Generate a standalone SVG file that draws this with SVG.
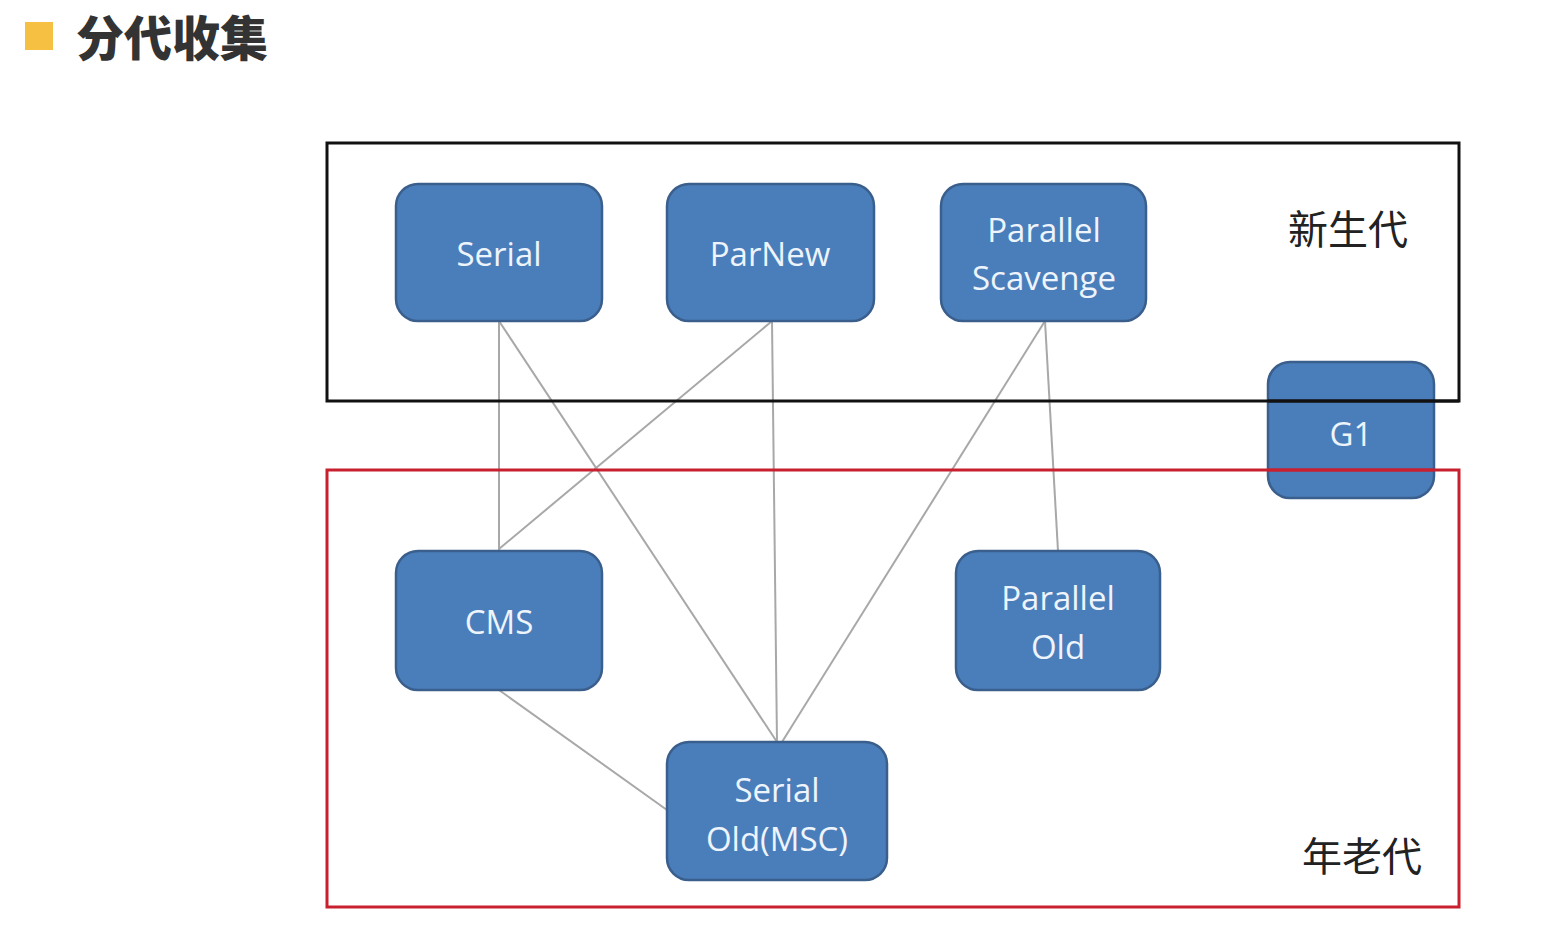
<svg xmlns="http://www.w3.org/2000/svg" width="1568" height="938" viewBox="0 0 1568 938">
<style>
.node rect{fill:#4a7ebb;stroke:#3a5f8c;stroke-width:2.5}
.node text{fill:#eef4fb;font-family:"Open Sans","Liberation Sans",sans-serif;font-size:33px;text-anchor:middle}
.conn line{stroke:#a8a8a8;stroke-width:2}
.lbl{font-family:"Noto Sans CJK SC",sans-serif;font-size:40px;fill:#222}
</style>
<rect x="0" y="0" width="1568" height="938" fill="#ffffff"/>
<g id="title">
<rect x="25" y="22" width="28" height="28" fill="#f6c142"/>
<text x="76" y="56" font-family="Noto Sans CJK SC, sans-serif" font-size="48" font-weight="900" fill="#333333">分代收集</text>
</g>
<g id="connectors" class="conn">
<line x1="499" y1="321" x2="499" y2="551"/>
<line x1="499" y1="321" x2="777" y2="742"/>
<line x1="772" y1="321" x2="499" y2="549"/>
<line x1="772" y1="321" x2="777" y2="742"/>
<line x1="1045" y1="321" x2="782" y2="742"/>
<line x1="1045" y1="321" x2="1058" y2="551"/>
<line x1="499" y1="690" x2="667" y2="810"/>
</g>
<g id="G1" class="node"><rect x="1268" y="362" width="166" height="136" rx="22"/><text x="1351" y="446">G1</text></g>
<g id="young-gen">
<rect x="327" y="143" width="1132" height="258" fill="none" stroke="#111111" stroke-width="3"/>
<text class="lbl" x="1348" y="244" text-anchor="middle">新生代</text>
</g>
<g id="old-gen">
<rect x="327" y="470" width="1132" height="437" fill="none" stroke="#c8202f" stroke-width="3"/>
<text class="lbl" x="1362" y="871" text-anchor="middle">年老代</text>
</g>
<g id="Serial" class="node"><rect x="396" y="184" width="206" height="137" rx="22"/><text x="499" y="266">Serial</text></g>
<g id="ParNew" class="node"><rect x="667" y="184" width="207" height="137" rx="22"/><text x="770" y="266">ParNew</text></g>
<g id="ParallelScavenge" class="node"><rect x="941" y="184" width="205" height="137" rx="22"/><text x="1044" y="242">Parallel</text><text x="1044" y="290">Scavenge</text></g>
<g id="CMS" class="node"><rect x="396" y="551" width="206" height="139" rx="22"/><text x="499" y="634">CMS</text></g>
<g id="ParallelOld" class="node"><rect x="956" y="551" width="204" height="139" rx="22"/><text x="1058" y="610">Parallel</text><text x="1058" y="659">Old</text></g>
<g id="SerialOld" class="node"><rect x="667" y="742" width="220" height="138" rx="22"/><text x="777" y="802">Serial</text><text x="777" y="851">Old(MSC)</text></g>
<line x1="1268" y1="401" x2="1459" y2="401" stroke="#111111" stroke-width="3"/>
<line x1="1268" y1="470" x2="1434" y2="470" stroke="#c8202f" stroke-width="3"/>
</svg>
